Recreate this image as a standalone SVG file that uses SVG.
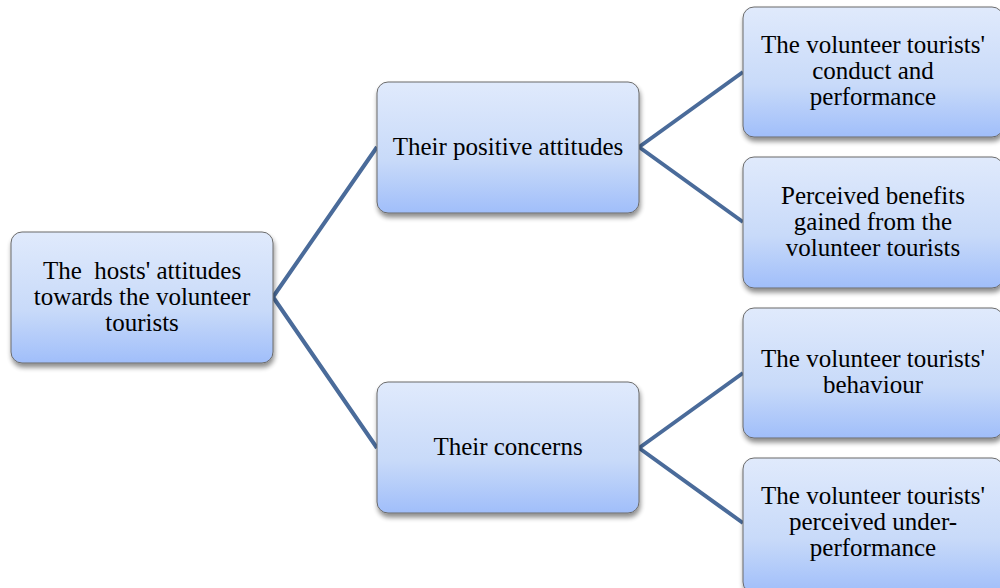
<svg xmlns="http://www.w3.org/2000/svg" width="1000" height="588" viewBox="0 0 1000 588">
<defs>
<linearGradient id="g" x1="0" y1="0" x2="0" y2="1">
<stop offset="0" stop-color="#e0eafc"/>
<stop offset="0.6" stop-color="#c8daf9"/>
<stop offset="1" stop-color="#a0befa"/>
</linearGradient>
<filter id="sh" x="-10%" y="-10%" width="125%" height="130%">
<feGaussianBlur in="SourceAlpha" stdDeviation="2.5"/>
<feOffset dx="1" dy="4" result="b"/>
<feComponentTransfer><feFuncA type="linear" slope="0.45"/></feComponentTransfer>
<feMerge><feMergeNode/><feMergeNode in="SourceGraphic"/></feMerge>
</filter>
</defs>
<style>
.box{fill:url(#g);stroke:#6b6b6b;stroke-width:1;filter:url(#sh)}
.t{font-family:"Liberation Serif","Times New Roman",serif;font-size:25px;fill:#000;text-anchor:middle;white-space:pre}
.c{stroke:#4a6b9a;stroke-width:4;fill:none;stroke-linejoin:round}
</style>
<rect width="1000" height="588" fill="#fff"/>
<g id="connectors">
<polyline class="c" points="377,147 273,297 377,448"/>
<polyline class="c" points="743,72 639,147 743,222"/>
<polyline class="c" points="743,373 639,448 743,523"/>
</g>
<g id="root">
<rect class="box" x="11" y="232" width="262" height="131" rx="11"/>
<text class="t" x="142" y="279" xml:space="preserve">The  hosts' attitudes</text>
<text class="t" x="142" y="305">towards the volunteer</text>
<text class="t" x="142" y="331">tourists</text>
</g>
<g id="positive">
<rect class="box" x="377" y="82" width="262" height="131" rx="11"/>
<text class="t" x="508" y="155">Their positive attitudes</text>
</g>
<g id="concerns">
<rect class="box" x="377" y="382" width="262" height="131" rx="11"/>
<text class="t" x="508" y="455">Their concerns</text>
</g>
<g id="conduct">
<rect class="box" x="743" y="7" width="260" height="130" rx="11"/>
<text class="t" x="873" y="53">The volunteer tourists'</text>
<text class="t" x="873" y="79">conduct and</text>
<text class="t" x="873" y="105">performance</text>
</g>
<g id="benefits">
<rect class="box" x="743" y="157" width="260" height="131" rx="11"/>
<text class="t" x="873" y="204">Perceived benefits</text>
<text class="t" x="873" y="230">gained from the</text>
<text class="t" x="873" y="256">volunteer tourists</text>
</g>
<g id="behaviour">
<rect class="box" x="743" y="308" width="260" height="130" rx="11"/>
<text class="t" x="873" y="367">The volunteer tourists'</text>
<text class="t" x="873" y="393">behaviour</text>
</g>
<g id="underperformance">
<rect class="box" x="743" y="458" width="260" height="135" rx="11"/>
<text class="t" x="873" y="504">The volunteer tourists'</text>
<text class="t" x="873" y="530">perceived under-</text>
<text class="t" x="873" y="556">performance</text>
</g>
</svg>
